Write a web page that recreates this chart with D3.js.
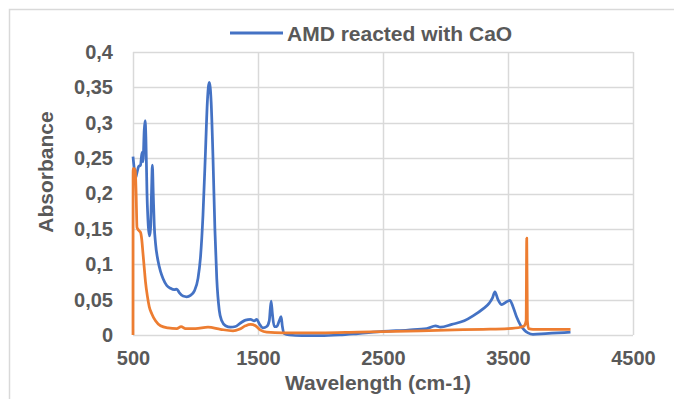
<!DOCTYPE html>
<html>
<head>
<meta charset="utf-8">
<script src="https://cdn.jsdelivr.net/npm/d3@7"></script>
<style>
  body { margin: 0; background: #fff; }
  svg text { font-family: "Liberation Sans", Arial, sans-serif; font-weight: bold; fill: #595959; }
</style>
</head>
<body>
<div id="chart"></div>
<script>
// series names
var seriesNames = ["AMD reacted with CaO", "CaO"];

// AMD reacted with CaO (blue)
var blueX = [500, 510, 520, 530, 545, 560, 572, 580, 590, 597, 603, 612, 622, 632, 640, 648, 655, 662, 670, 680,
  700, 720, 740, 770, 800, 830, 850, 870, 900, 930, 960, 990, 1020, 1040, 1060, 1080, 1095, 1110, 1125, 1140,
  1155, 1170, 1190, 1210, 1240, 1280, 1320, 1360, 1400, 1440, 1470, 1490, 1510, 1540, 1570, 1590, 1605, 1615,
  1630, 1650, 1670, 1685, 1695, 1710, 1750, 1850, 2000, 2150, 2300, 2500, 2700, 2850, 2920, 2960, 3050, 3150,
  3220, 3300, 3350, 3375, 3395, 3420, 3450, 3480, 3515, 3540, 3570, 3600, 3630, 3660, 3700, 3800, 3900, 4000];
var blueY = [0.252, 0.235, 0.222, 0.228, 0.238, 0.24, 0.258, 0.245, 0.29, 0.303, 0.28, 0.2, 0.155, 0.14, 0.15, 0.2, 0.24, 0.2, 0.155, 0.13,
  0.105, 0.09, 0.08, 0.07, 0.066, 0.064, 0.065, 0.06, 0.055, 0.054, 0.056, 0.062, 0.08, 0.11, 0.17, 0.26, 0.33, 0.357, 0.33, 0.25,
  0.15, 0.08, 0.035, 0.02, 0.013, 0.011, 0.012, 0.017, 0.021, 0.022, 0.02, 0.022, 0.016, 0.01, 0.012, 0.02, 0.048, 0.03,
  0.012, 0.012, 0.02, 0.026, 0.012, 0.002, 0.0, -0.001, -0.001, 0.0, 0.002, 0.005, 0.007, 0.009, 0.013, 0.011, 0.015, 0.02,
  0.027, 0.037, 0.045, 0.052, 0.061, 0.05, 0.043, 0.046, 0.049, 0.04, 0.025, 0.014, 0.007, 0.003, 0.001, 0.002, 0.003, 0.004];

// second series (orange)
var orangeX = [500, 501, 510, 518, 525, 532, 545, 560, 570, 580, 590, 600, 615, 630, 650, 680, 720, 780, 850, 885,
  920, 1000, 1100, 1200, 1300, 1350, 1400, 1440, 1480, 1520, 1570, 1700, 2000, 2300, 2600, 3000, 3300, 3500, 3600,
  3630, 3645, 3650, 3655, 3665, 3700, 3800, 4000];
var orangeY = [0.0, 0.235, 0.235, 0.232, 0.2, 0.152, 0.148, 0.145, 0.135, 0.115, 0.095, 0.075, 0.055, 0.04, 0.03, 0.02, 0.013, 0.01, 0.009, 0.012,
  0.009, 0.009, 0.011, 0.008, 0.006, 0.008, 0.013, 0.015, 0.013, 0.007, 0.004, 0.003, 0.003, 0.004, 0.005, 0.007, 0.008, 0.009, 0.011,
  0.013, 0.02, 0.137, 0.02, 0.009, 0.008, 0.008, 0.008];

// axis ticks
var xTicks = [500, 1500, 2500, 3500, 4500];
var yTicks = [0, 0.05, 0.1, 0.15, 0.2, 0.25, 0.3, 0.35, 0.4];
var yTickLabels = ["0", "0,05", "0,1", "0,15", "0,2", "0,25", "0,3", "0,35", "0,4"];

var width_svg = 674, height_svg = 399;
var margin = {left: 133, top: 52, right: 41, bottom: 64};
var width = width_svg - margin.left - margin.right;
var height = height_svg - margin.top - margin.bottom;

var svg = d3.select("#chart")
            .append("svg")
            .attr("width", width_svg)
            .attr("height", height_svg);

// chart frame
svg.append("rect")
    .attr("x", 9.5).attr("y", 9.5)
    .attr("width", 700).attr("height", 500)
    .attr("fill", "none")
    .attr("stroke", "#d9d9d9")
    .attr("stroke-width", 1.5);

var x = d3.scaleLinear().domain([500, 4500]).range([0, width]);
var y = d3.scaleLinear().domain([0, 0.4]).range([height, 0]);

var g = svg.append("g").attr("transform", `translate(${margin.left},${margin.top})`);

// gridlines
g.append("g")
    .selectAll("line")
    .data(yTicks)
    .join("line")
    .attr("x1", 0).attr("x2", width)
    .attr("y1", d => Math.round(y(d)) + 0.5).attr("y2", d => Math.round(y(d)) + 0.5)
    .attr("stroke", "#d9d9d9")
    .attr("stroke-width", 1.5);

g.append("g")
    .selectAll("line")
    .data(xTicks)
    .join("line")
    .attr("x1", d => Math.round(x(d)) + 0.5).attr("x2", d => Math.round(x(d)) + 0.5)
    .attr("y1", 0).attr("y2", height)
    .attr("stroke", "#d9d9d9")
    .attr("stroke-width", 1.5);

// axes (labels only, Excel style)
var xAxis = g.append("g")
    .attr("transform", `translate(0,${height})`)
    .call(d3.axisBottom(x).tickValues(xTicks).tickSize(0).tickPadding(16).tickFormat(d3.format("d")));
xAxis.select(".domain").remove();
xAxis.selectAll("text").style("font-size", "20px").style("font-family", null);

var yAxis = g.append("g")
    .call(d3.axisLeft(y).tickValues(yTicks).tickSize(0).tickPadding(20)
        .tickFormat((d, i) => yTickLabels[i]));
yAxis.select(".domain").remove();
yAxis.selectAll("text").style("font-size", "20px").style("font-family", null);

// lines
var line = d3.line()
    .x(d => x(d[0]))
    .y(d => y(d[1]))
    .curve(d3.curveMonotoneX);

g.append("path")
    .datum(d3.zip(blueX, blueY))
    .attr("fill", "none")
    .attr("stroke", "#4472c4")
    .attr("stroke-width", 2.75)
    .attr("stroke-linejoin", "round")
    .attr("d", line);

g.append("path")
    .datum(d3.zip(orangeX, orangeY))
    .attr("fill", "none")
    .attr("stroke", "#ed7d31")
    .attr("stroke-width", 2.75)
    .attr("stroke-linejoin", "round")
    .attr("d", line);

// axis titles
svg.append("text")
    .attr("x", 378).attr("y", 390)
    .attr("text-anchor", "middle")
    .style("font-size", "21px")
    .text("Wavelength (cm-1)");

svg.append("text")
    .attr("transform", "translate(53,172) rotate(-90)")
    .attr("text-anchor", "middle")
    .style("font-size", "21px")
    .text("Absorbance");

// legend
svg.append("line")
    .attr("x1", 230).attr("x2", 283)
    .attr("y1", 33).attr("y2", 33)
    .attr("stroke", "#4472c4")
    .attr("stroke-width", 3);

svg.append("text")
    .attr("x", 287).attr("y", 41)
    .style("font-size", "21px")
    .text(seriesNames[0]);
</script>
</body>
</html>
